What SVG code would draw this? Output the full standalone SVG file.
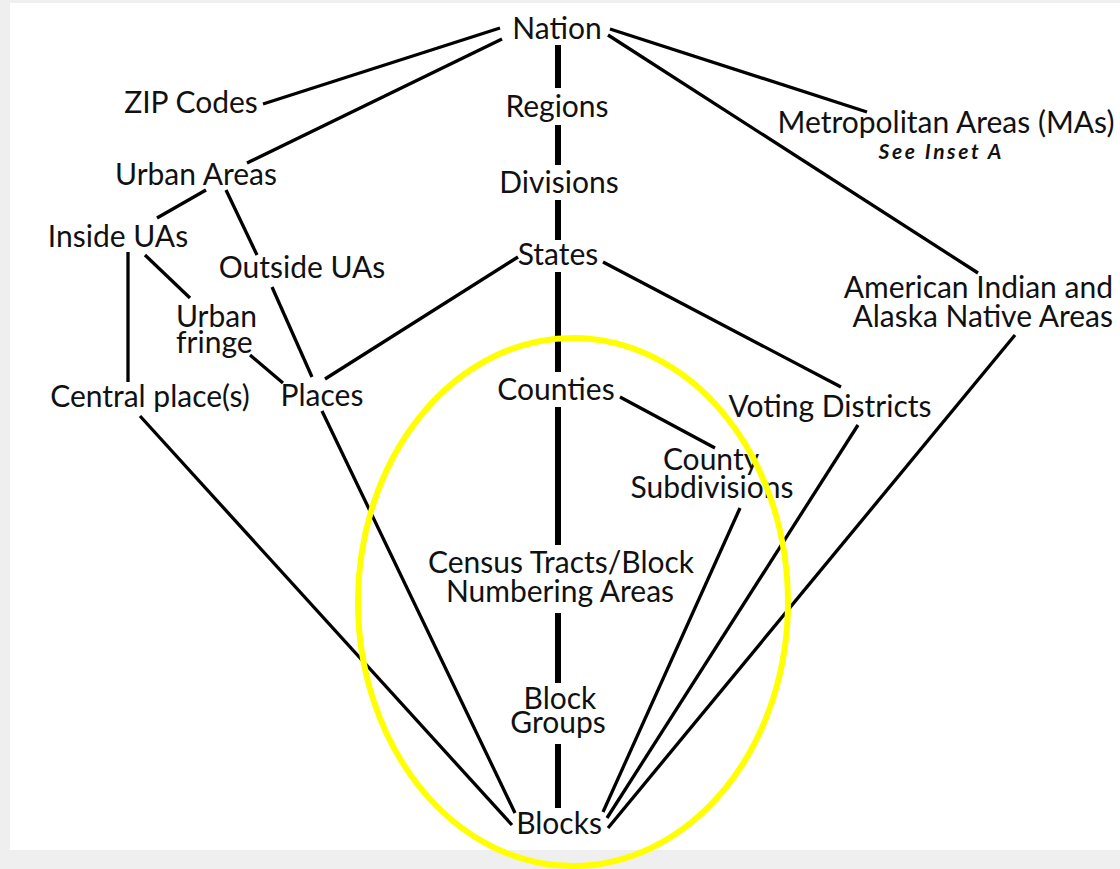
<svg xmlns="http://www.w3.org/2000/svg" width="1120" height="869" viewBox="0 0 1120 869">
<style>
.t{font-family:Lato,"Open Sans",sans-serif;font-size:30px;fill:#111;text-anchor:middle}
.l{text-anchor:start}
.r{text-anchor:end}
.b{font-weight:bold;font-style:italic;font-size:21px}
.c line{stroke:#000;stroke-width:3.3;stroke-linecap:butt}
.c line.v{stroke-width:6}
</style>
<rect width="1120" height="869" fill="#efefef"/>
<rect x="10" y="3" width="1110" height="847" fill="#fff"/>
<g class="c" id="connectors">
<line class="v" x1="558" y1="45" x2="558" y2="88"/>
<line class="v" x1="558" y1="125" x2="558" y2="165"/>
<line class="v" x1="558" y1="200" x2="558" y2="240"/>
<line class="v" x1="558" y1="272" x2="558" y2="372"/>
<line class="v" x1="558" y1="407" x2="558" y2="545"/>
<line class="v" x1="558" y1="613" x2="558" y2="683"/>
<line class="v" x1="558" y1="744" x2="558" y2="808"/>
<line x1="500" y1="28" x2="263" y2="104"/>
<line x1="502" y1="39" x2="247" y2="163"/>
<line x1="206" y1="190" x2="157" y2="218"/>
<line x1="226" y1="190" x2="257" y2="255"/>
<line x1="128" y1="252" x2="128" y2="382"/>
<line x1="145" y1="255" x2="190" y2="298"/>
<line x1="272" y1="287" x2="312" y2="377"/>
<line x1="250" y1="355" x2="283" y2="383"/>
<line x1="518" y1="257" x2="325" y2="379"/>
<line x1="603" y1="262" x2="841" y2="387"/>
<line x1="620" y1="397" x2="715" y2="448"/>
<line x1="140" y1="416" x2="512" y2="825"/>
<line x1="322" y1="411" x2="515" y2="813"/>
<line x1="740" y1="508" x2="603" y2="812"/>
<line x1="858" y1="425" x2="607" y2="818"/>
<line x1="1015" y1="335" x2="608" y2="828"/>
<line x1="610" y1="29" x2="867" y2="112"/>
<line x1="608" y1="35" x2="978" y2="273"/>
</g>
<g id="nation"><text class="t" x="557" y="39">Nation</text></g>
<g id="regions"><text class="t" x="557" y="117">Regions</text></g>
<g id="divisions"><text class="t" x="559" y="193">Divisions</text></g>
<g id="states"><text class="t" x="558" y="265">States</text></g>
<g id="counties"><text class="t" x="556" y="400">Counties</text></g>
<g id="county-subdivisions"><text class="t" x="711" y="470">County</text><text class="t" x="712" y="498">Subdivisions</text></g>
<g id="census-tracts"><text class="t" x="561" y="573">Census Tracts/Block</text><text class="t" x="560" y="602">Numbering Areas</text></g>
<g id="block-groups"><text class="t" x="560" y="709">Block</text><text class="t" x="558" y="733">Groups</text></g>
<g id="blocks"><text class="t" x="559" y="834">Blocks</text></g>
<g id="zip-codes"><text class="t" x="191" y="113">ZIP Codes</text></g>
<g id="urban-areas"><text class="t" x="196" y="185">Urban Areas</text></g>
<g id="inside-uas"><text class="t" x="118" y="247">Inside UAs</text></g>
<g id="outside-uas"><text class="t" x="302" y="278">Outside UAs</text></g>
<g id="urban-fringe"><text class="t l" x="176" y="327">Urban</text><text class="t l" x="176" y="353">fringe</text></g>
<g id="central-places"><text class="t" x="150" y="407">Central place(s)</text></g>
<g id="places"><text class="t" x="322" y="406">Places</text></g>
<g id="voting-districts"><text class="t" x="830" y="417">Voting Districts</text></g>
<g id="metropolitan-areas"><text class="t" x="946" y="133">Metropolitan Areas (MAs)</text><text class="t b" x="940" y="159" textLength="123" lengthAdjust="spacing">See Inset A</text></g>
<g id="aiana"><text class="t r" x="1113" y="298">American Indian and</text><text class="t r" x="1113" y="327">Alaska Native Areas</text></g>
<ellipse cx="573" cy="602" rx="215" ry="264" fill="none" stroke="#ffff00" stroke-width="6"/>
</svg>
